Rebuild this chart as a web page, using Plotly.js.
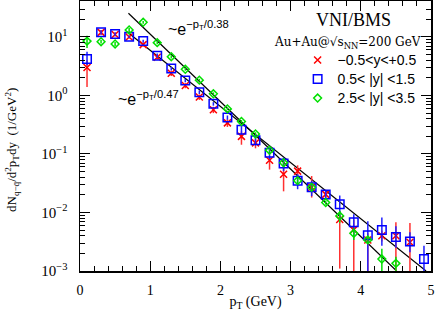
<!DOCTYPE html>
<html><head><meta charset="utf-8">
<script src="https://cdn.plot.ly/plotly-3.0.1.min.js"></script>
<style>html,body{margin:0;padding:0;background:#fff}</style>
</head><body><div id="chart" style="width:436px;height:311px"></div>
<script>
const pT = [0.1,0.3,0.5,0.7,0.9,1.1,1.3,1.5,1.7,1.9,2.1,2.3,2.5,2.7,2.9,3.1,3.3,3.5,3.7,3.9,4.1,4.3,4.5,4.7,4.9];

const midY      = [3.0,12.0,11.0,10.0,7.4,4.5,2.4,1.48,0.94,0.57,0.34,0.20,0.155,0.078,0.045,0.051,0.027,0.0204,0.0076,0.0051,0.0034,0.0040,0.0040,0.0031,null];
const midErrUp  = [1.0,1.2,0.8,0.6,0.6,0.4,0.25,0.15,0.1,0.07,0.05,0.044,0.03,0.013,0.03,0.013,0.015,0.004,0.003,0.0025,0.001,0.0009,0.0028,0.0035,null];
const midErrDn  = [1.6,1.2,0.8,0.6,0.6,0.4,0.25,0.15,0.1,0.07,0.05,0.056,0.03,0.024,0.022,0.013,0.009,0.004,0.0065,0.0051,0.0034,0.0008,0.0040,0.0031,null];

const fwdY      = [4.2,12.0,11.2,10.1,8.5,4.8,2.88,1.8,1.14,0.72,0.42,0.26,0.171,0.105,0.069,0.035,0.027,0.0204,0.0138,0.0068,0.0041,0.0050,0.0038,0.0032,0.0016];
const fwdErrUp  = [1.4,1.0,0.8,0.5,0.5,0.4,0.2,0.12,0.08,0.05,0.035,0.04,0.03,0.024,0.018,0.01,0.008,0.003,0.0057,0.0025,0.003,0.0032,0.002,0.0014,0.0011];
const fwdErrDn  = [0.9,1.0,0.8,0.5,0.5,0.4,0.2,0.12,0.08,0.05,0.035,0.04,0.03,0.024,0.018,0.01,0.008,0.003,0.0057,0.003,0.0041,0.0023,0.0013,0.0011,0.0008];

const farY      = [8.5,8.3,7.6,13.2,17.8,8.0,4.6,2.8,1.83,1.07,0.59,0.36,0.22,0.116,0.071,0.035,0.027,0.0148,0.0087,0.0044,0.0034,0.0016,0.00135,null,null];
const farErrUp  = [2.0,0.6,0.6,1.0,1.0,0.5,0.3,0.15,0.1,0.06,0.03,0.02,0.015,0.008,0.005,0.003,0.002,0.0012,0.002,0.001,0.0005,0.0008,0.0004,null,null];
const farErrDn  = [2.0,0.6,0.6,1.0,1.0,0.5,0.3,0.15,0.1,0.06,0.03,0.02,0.015,0.008,0.005,0.003,0.002,0.0012,0.002,0.001,0.0005,0.0016,0.00135,null,null];

const steepX = [0.69, 4.51], steepY = [25.4, 0.001];
const flatX  = [0.67, 4.93], flatY  = [12.3, 0.001];

const seriesNames = ['\u22120.5<y<+0.5', '0.5< |y| <1.5', '2.5< |y| <3.5'];
const yTickVals = [0.001, 0.01, 0.1, 1, 10];
const yTickText = ['10<sup>\u22123</sup>','10<sup>\u22122</sup>','10<sup>\u22121</sup>','10<sup>0</sup>','10<sup>1</sup>'];
const xTickVals = [0,1,2,3,4,5];
const xTickText = ['0','1','2','3','4','5'];

function errObj(up, dn, color){
  return {type:'data', symmetric:false, array:up, arrayminus:dn, color:color, thickness:1.5, width:0, visible:true};
}
function legendLabel(s){ return '<span style="font-size:14px">' + s.replace(/</g,'&lt;') + '</span>'; }

const traces = [
  {x:steepX, y:steepY, mode:'lines', line:{color:'black', width:1.2}, showlegend:false, hoverinfo:'skip'},
  {x:flatX, y:flatY, mode:'lines', line:{color:'black', width:1.2}, showlegend:false, hoverinfo:'skip'},
  {x:pT, y:midY, name:legendLabel(seriesNames[0]), mode:'markers',
   marker:{symbol:'x-thin-open', size:7, color:'#ff0000', line:{color:'#ff0000', width:1.5}},
   error_y:errObj(midErrUp, midErrDn, '#ff3030')},
  {x:pT, y:fwdY, name:legendLabel(seriesNames[1]), mode:'markers',
   marker:{symbol:'square-open', size:8.5, color:'#0000ff', line:{color:'#0000ff', width:1.5}},
   error_y:errObj(fwdErrUp, fwdErrDn, '#2020ff')},
  {x:pT, y:farY, name:legendLabel(seriesNames[2]), mode:'markers',
   marker:{symbol:'diamond-open', size:6, color:'#00e000', line:{color:'#00e000', width:1.5}},
   error_y:errObj(farErrUp, farErrDn, '#00e000')}
];

const serif = 'Liberation Serif, Times New Roman, serif';
const sans = 'Liberation Sans, Arial, sans-serif';

const layout = {
  width:436, height:311,
  margin:{l:80, r:5, t:1, b:40},
  paper_bgcolor:'white', plot_bgcolor:'white',
  font:{family:serif, color:'black', size:14},
  showlegend:true,
  legend:{x:0.62, y:0.835, xanchor:'left', yanchor:'top', bgcolor:'rgba(0,0,0,0)',
          font:{family:sans, size:11.5, color:'black'}, tracegroupgap:0, itemwidth:30},
  xaxis:{type:'linear', range:[0,5], tickvals:xTickVals, ticktext:xTickText,
         ticks:'inside', ticklen:10, tickwidth:1, tickcolor:'black',
         minor:{dtick:0.2, ticks:'inside', ticklen:5, tickwidth:1, tickcolor:'black'},
         showline:true, linecolor:'black', linewidth:1.5, mirror:'allticks',
         showgrid:false, zeroline:false, ticklabelstandoff:6,
         tickfont:{family:serif, size:14, color:'black'},
         title:{text:'p<sub>T</sub> (GeV)', font:{family:serif, size:14, color:'black'}, standoff:4}},
  yaxis:{type:'log', range:[-3, 1.615], tickvals:yTickVals, ticktext:yTickText,
         ticks:'inside', ticklen:10, tickwidth:1, tickcolor:'black',
         minor:{dtick:'D1', ticks:'inside', ticklen:5, tickwidth:1, tickcolor:'black'},
         showline:true, linecolor:'black', linewidth:1.5, mirror:'allticks',
         showgrid:false, zeroline:false, ticklabelstandoff:8,
         tickfont:{family:serif, size:15, color:'black'}},
  annotations:[
    {xref:'paper', yref:'paper', x:-0.194, y:0.448, xanchor:'center', yanchor:'middle', textangle:-90, showarrow:false,
     text:'dN<sub>q\u2212q\u0304</sub>/d<sup>2</sup>p<sub>T</sub>dy  (1/GeV<sup>2</sup>)', font:{family:serif, size:13, color:'black'}},
    {xref:'paper', yref:'paper', x:0.778, y:0.93, xanchor:'center', yanchor:'middle', showarrow:false,
     text:'VNI/BMS', font:{family:serif, size:18, color:'black'}},
    {xref:'paper', yref:'paper', x:0.762, y:0.844, xanchor:'center', yanchor:'middle', showarrow:false,
     text:'Au+Au@\u221As<sub>NN</sub>=200 GeV', font:{family:'DejaVu Serif, serif', size:12, color:'black'}},
    {xref:'paper', yref:'paper', x:0.245, y:0.9, xanchor:'left', yanchor:'middle', showarrow:false,
     text:'~e<sup>\u2212p<sub>T</sub>/0.38</sup>', font:{family:sans, size:16, color:'black'}},
    {xref:'paper', yref:'paper', x:0.102, y:0.64, xanchor:'left', yanchor:'middle', showarrow:false,
     text:'~e<sup>\u2212p<sub>T</sub>/0.47</sup>', font:{family:sans, size:16, color:'black'}}
  ]
};

Plotly.newPlot('chart', traces, layout, {staticPlot:true, displayModeBar:false});
</script>
</body></html>
